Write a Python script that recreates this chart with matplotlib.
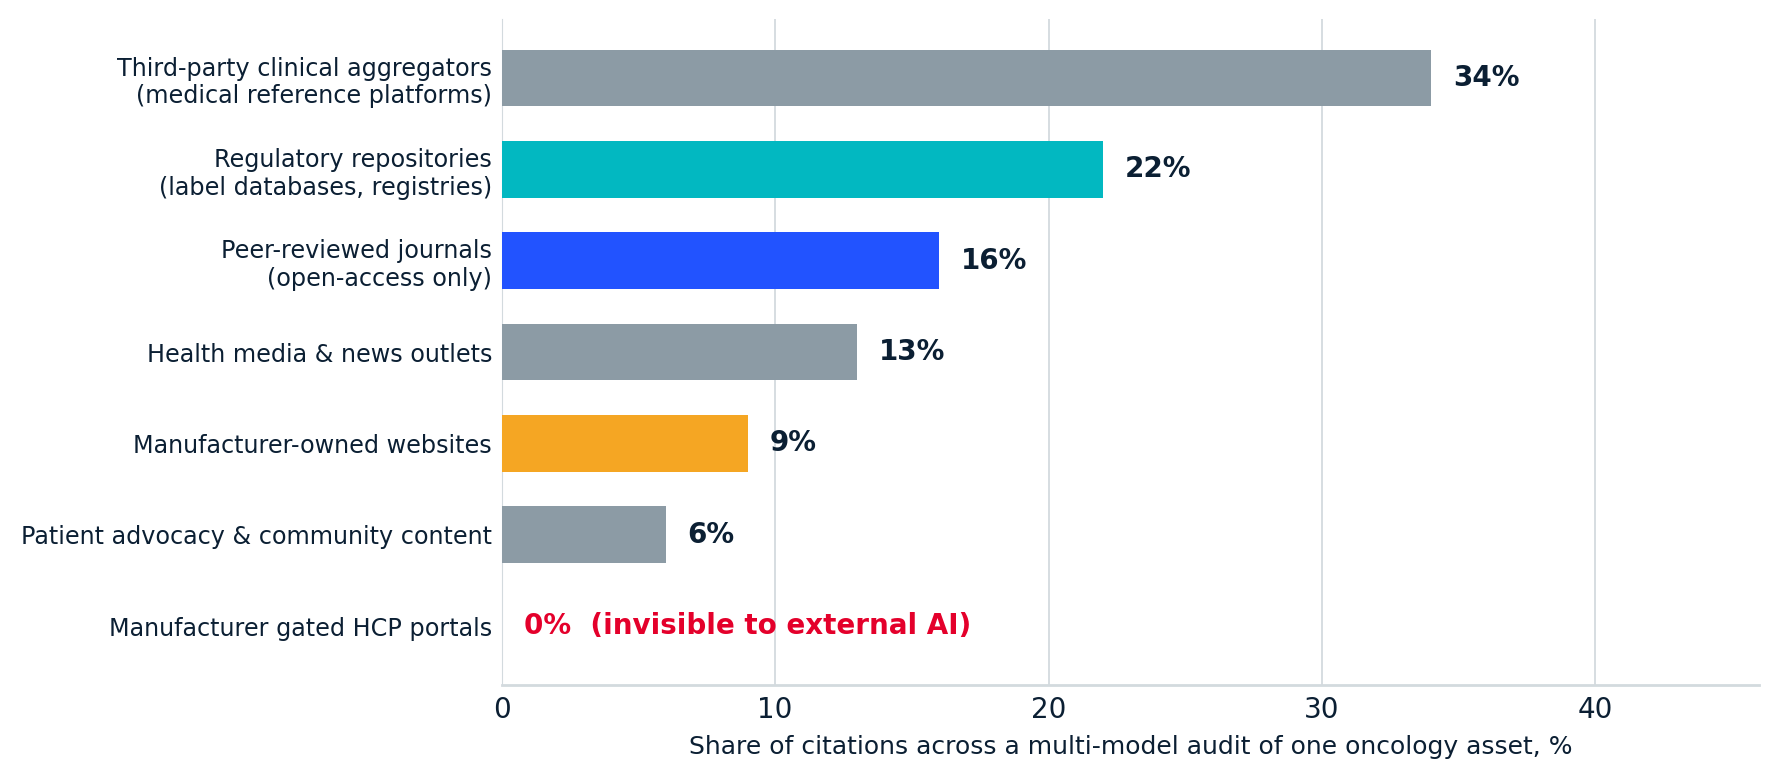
import matplotlib.pyplot as plt

# ---------------------------
# Data
# ---------------------------
categories = [
    "Third-party clinical aggregators\n(medical reference platforms)",
    "Regulatory repositories\n(label databases, registries)",
    "Peer-reviewed journals\n(open-access only)",
    "Health media & news outlets",
    "Manufacturer-owned websites",
    "Patient advocacy & community content",
    "Manufacturer gated HCP portals",
]
shares = [34, 22, 16, 13, 9, 6, 0]
bar_colors = ["#8C9BA5", "#02B8C1", "#2253FF", "#8C9BA5", "#F5A623", "#8C9BA5", "#8C9BA5"]
zero_note = "0%  (invisible to external AI)"

TEXT = "#0B1F33"
GRID = "#D3DADE"
RED = "#E4002B"

# ---------------------------
# Plot
# ---------------------------
fig, ax = plt.subplots(figsize=(17.79, 7.78), dpi=100)
fig.subplots_adjust(left=0.282, right=0.989, top=0.975, bottom=0.12)

y = list(range(len(categories)))
ax.barh(y, shares, height=0.62, color=bar_colors, zorder=3)
ax.invert_yaxis()

for yi, v in zip(y, shares):
    if v == 0:
        ax.text(v + 0.8, yi, zero_note, va="center", ha="left",
                fontsize=20, fontweight="bold", color=RED, zorder=4)
    else:
        ax.text(v + 0.8, yi, f"{v}%", va="center", ha="left",
                fontsize=20, fontweight="bold", color=TEXT, zorder=4)

ax.set_xlim(0, 46)
ax.set_xticks([0, 10, 20, 30, 40])
ax.set_yticks(y)
ax.set_yticklabels(categories, fontsize=17.2, color=TEXT)
ax.tick_params(axis="x", labelsize=20, colors=TEXT, length=0, pad=8)
ax.tick_params(axis="y", length=0, pad=7)
ax.set_xlabel("Share of citations across a multi-model audit of one oncology asset, %",
              fontsize=18, color=TEXT, labelpad=8)

ax.grid(axis="x", color=GRID, linewidth=1.3, zorder=0)
ax.grid(axis="y", visible=False)
for side in ["top", "right"]:
    ax.spines[side].set_visible(False)
ax.spines["left"].set_color(GRID)
ax.spines["bottom"].set_color(GRID)
ax.spines["bottom"].set_linewidth(2)

plt.savefig("out.png", dpi=100)
plt.close()
